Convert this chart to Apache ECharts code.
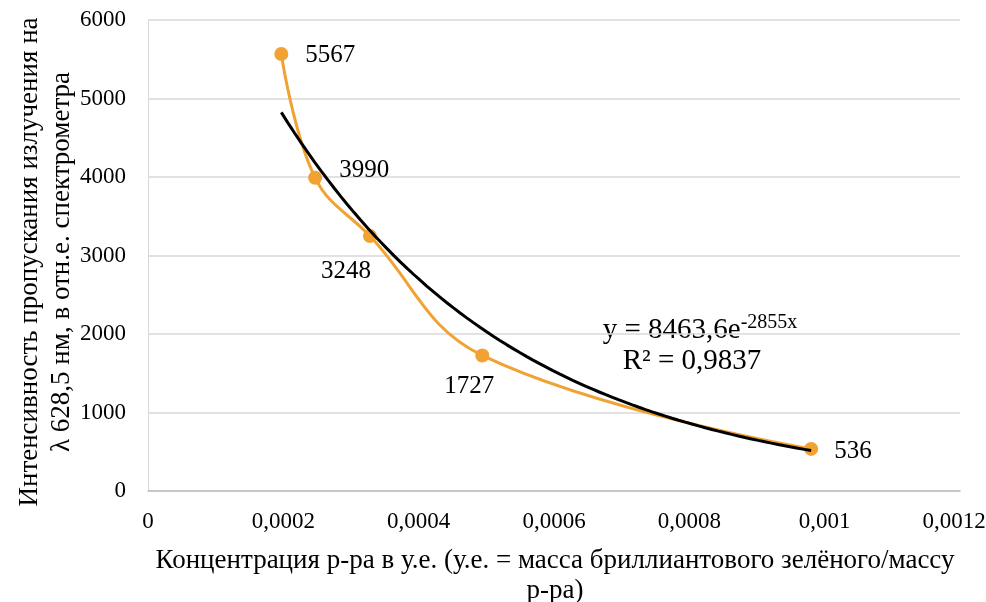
<!DOCTYPE html>
<html>
<head>
<meta charset="utf-8">
<script src="https://cdn.jsdelivr.net/npm/echarts@6/dist/echarts.min.js"></script>
<style>
  html, body { margin: 0; padding: 0; background: #fff; }
  #chart { width: 986px; height: 602px; }
</style>
</head>
<body>
<div id="chart"></div>
<script>
// Concentration (c.u.) and measured intensity
const concentrations = [0.000197, 0.000247, 0.000328, 0.000494, 0.00098];
const intensities = [5567, 3990, 3248, 1727, 536];

// Exponential trendline coefficients: y = A * e^(k x)
const trendA = 8463.6;
const trendK = -2855;
const trendR2 = '0,9837';

const xTicks = ['0', '0,0002', '0,0004', '0,0006', '0,0008', '0,001', '0,0012'];
const yTicks = ['0', '1000', '2000', '3000', '4000', '5000', '6000'];

const FONT = '"Liberation Serif", "Times New Roman", serif';
const ORANGE = '#F1A232';

// Label placement for each measured point
const labelPlacement = [
  { position: 'right', offset: [12, 1] },
  { position: 'right', offset: [12, -7] },
  { position: 'bottom', offset: [-24, 11] },
  { position: 'bottom', offset: [-13, 7] },
  { position: 'right', offset: [11, 3] }
];

const measured = concentrations.map((x, i) => ({
  value: [x, intensities[i]],
  label: {
    show: true,
    formatter: String(intensities[i]),
    position: labelPlacement[i].position,
    offset: labelPlacement[i].offset,
    fontFamily: FONT,
    fontSize: 25,
    color: '#000'
  }
}));

// Trendline sampled over the measured range
const trend = [];
const x0 = concentrations[0];
const x1 = concentrations[concentrations.length - 1];
const steps = 80;
for (let i = 0; i <= steps; i++) {
  const x = x0 + (x1 - x0) * i / steps;
  trend.push([x, trendA * Math.exp(trendK * x)]);
}

const chart = echarts.init(document.getElementById('chart'), null, { renderer: 'canvas' });

chart.setOption({
  animation: false,
  backgroundColor: '#fff',
  grid: { left: 148, right: 26, top: 20, bottom: 111, containLabel: false, outerBoundsMode: 'none' },
  xAxis: {
    type: 'value',
    min: 0,
    max: 0.0012,
    interval: 0.0002,
    axisLine: { show: true, lineStyle: { color: '#bfbfbf', width: 1.5 } },
    axisTick: { show: false },
    splitLine: { show: false },
    axisLabel: {
      fontFamily: FONT,
      fontSize: 23,
      color: '#000',
      margin: 19,
      formatter: (v) => {
        const idx = Math.round(v / 0.0002);
        // keep the last label inside the canvas edge
        return idx === xTicks.length - 1 ? '{edge|' + xTicks[idx] + '}' : xTicks[idx];
      },
      rich: {
        edge: { fontFamily: FONT, fontSize: 23, color: '#000', padding: [0, 12, 0, 0] }
      }
    }
  },
  yAxis: {
    type: 'value',
    min: 0,
    max: 6000,
    interval: 1000,
    axisLine: { show: true, lineStyle: { color: '#d9d9d9', width: 1 } },
    axisTick: { show: false },
    splitLine: { show: true, lineStyle: { color: '#d9d9d9', width: 1.5 } },
    axisLabel: {
      fontFamily: FONT,
      fontSize: 23,
      color: '#000',
      margin: 22,
      formatter: (v) => yTicks[Math.round(v / 1000)]
    }
  },
  series: [
    {
      type: 'line',
      data: measured,
      smooth: 0.4,
      symbol: 'circle',
      symbolSize: 14,
      itemStyle: { color: ORANGE },
      lineStyle: { color: ORANGE, width: 3 },
      z: 2
    },
    {
      type: 'line',
      data: trend,
      smooth: false,
      showSymbol: false,
      symbol: 'none',
      lineStyle: { color: '#000', width: 3 },
      z: 3
    }
  ],
  graphic: [
    {
      type: 'text',
      x: 46,
      y: 262,
      rotation: Math.PI / 2,
      style: {
        text: 'Интенсивность пропускания излучения на\nλ 628,5 нм, в отн.е. спектрометра',
        fontFamily: FONT,
        fontSize: 27,
        lineHeight: 32,
        fill: '#000',
        align: 'center',
        verticalAlign: 'middle'
      }
    },
    {
      type: 'text',
      x: 555,
      y: 576,
      style: {
        text: 'Концентрация р-ра в у.е. (у.е. = масса бриллиантового зелёного/массу\nр-ра)',
        fontFamily: FONT,
        fontSize: 27,
        lineHeight: 30,
        fill: '#000',
        align: 'center',
        verticalAlign: 'middle'
      }
    },
    {
      type: 'text',
      x: 700,
      y: 329,
      style: {
        text: '{b|y = ' + String(trendA).replace('.', ',') + 'e}{s|' + trendK + 'x}',
        rich: {
          b: { fontFamily: FONT, fontSize: 29, fill: '#000', verticalAlign: 'bottom' },
          s: { fontFamily: FONT, fontSize: 20, fill: '#000', verticalAlign: 'top', padding: [0, 0, 12, 0] }
        },
        align: 'center',
        verticalAlign: 'middle'
      }
    },
    {
      type: 'text',
      x: 692,
      y: 361,
      style: {
        text: 'R² = ' + trendR2,
        fontFamily: FONT,
        fontSize: 29,
        fill: '#000',
        align: 'center',
        verticalAlign: 'middle'
      }
    }
  ]
});
</script>
</body>
</html>
